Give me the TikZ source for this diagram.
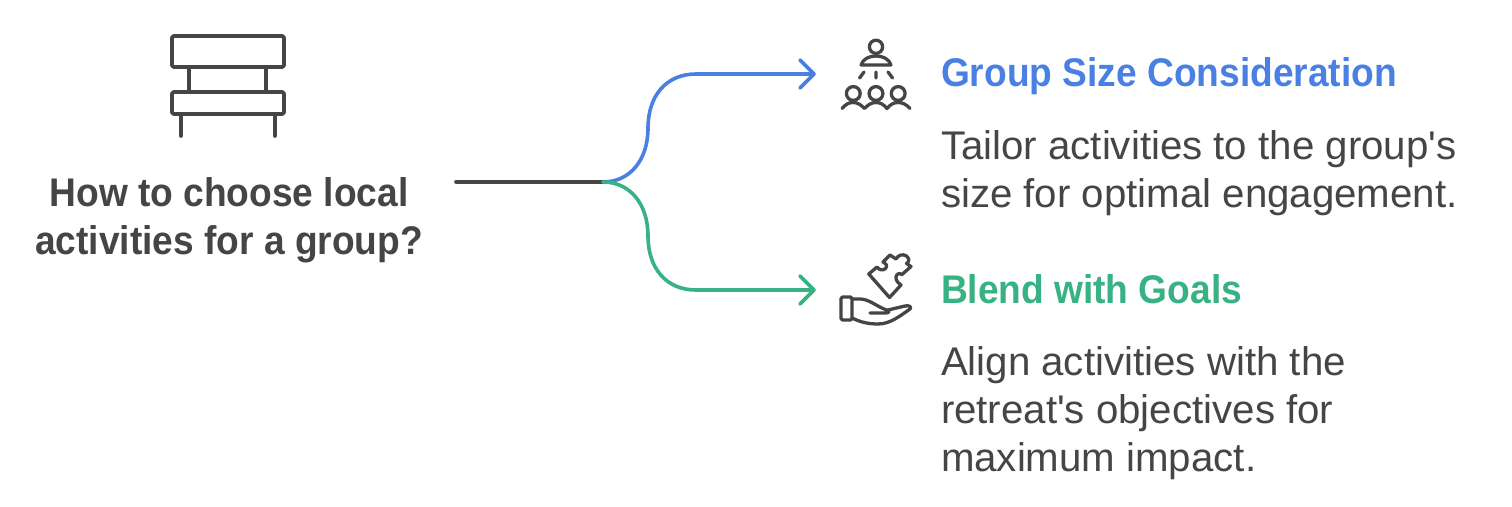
\documentclass[tikz,border=0pt]{standalone}
\usepackage{fontspec}
\setmainfont{Liberation Sans}
\newfontfamily\headfont[FakeStretch=0.928,BoldFont={Liberation Sans Bold}]{Liberation Sans}
\newfontfamily\bodyfont[FakeStretch=1.006]{Liberation Sans}
\definecolor{ink}{HTML}{454545}
\definecolor{blueline}{HTML}{4A80E4}
\definecolor{greenline}{HTML}{38B185}
\tikzset{
  x=1pt,y=-1pt,
  every node/.style={inner sep=0pt,outer sep=0pt,text=ink},
  conn/.style={line width=3.6pt,line cap=round,line join=round},
  icon/.style={draw=ink,line width=3.6pt,line cap=round,line join=round},
  iconthin/.style={draw=ink,line width=3.3pt,line cap=round,line join=round},
  ttl/.style={anchor=base west,font=\headfont\fontsize{40}{48}\selectfont\bfseries},
  body/.style={anchor=north west,align=left,font=\bodyfont\fontsize{40}{48}\selectfont},
  ques/.style={anchor=north,align=center,font=\headfont\fontsize{40}{48}\selectfont\bfseries},
}
\begin{document}
\begin{tikzpicture}
\useasboundingbox (0,0) rectangle (1512,506);
\fill[white] (0,0) rectangle (1512,506);
% bench
\draw[icon,rounded corners=1.5pt] (172,36) rectangle (284,67);
\draw[icon,rounded corners=1.5pt] (172,92) rectangle (284,114);
\draw[icon] (189,67) -- (189,92) (266,67) -- (266,92) (181,114) -- (181,136) (275,114) -- (275,136);
% question
\node[ques] (q) at (229,178) {How to choose local\\activities for a group?};
% connectors
\coordinate (s) at (456,182);
\coordinate (j) at (603,182);
\coordinate (bt) at (814,74);
\coordinate (gt) at (814,290);
\draw[conn,ink] (s) -- (j);
\draw[conn,blueline] (j) .. controls (630,182) and (648,160) .. (648,128) .. controls (648,96) and (666,74) .. (696,74) -- (bt);
\draw[conn,blueline] (800,60) -- (bt) -- (800,88);
\draw[conn,greenline] (j) .. controls (630,182) and (648,204) .. (648,236) .. controls (648,268) and (666,290) .. (696,290) -- (gt);
\draw[conn,greenline] (800,276) -- (gt) -- (800,304);
% group icon
\begin{scope}[iconthin]
\draw (876,46.8) circle (6.6);
\draw (861,65) .. controls (863,59) and (869,56) .. (876,56) .. controls (883,56) and (889,59) .. (891,65) -- cycle;
\draw (859.5,78) -- (864,72) (876,72) -- (876,78) (888,72) -- (892.5,78);
\draw (853.3,93.5) circle (6.9) (876,93.5) circle (6.9) (898.2,93.5) circle (6.9);
\draw (842,108.5) .. controls (846,104) and (849,102.5) .. (853,102.5) .. controls (858,102.5) and (861,105) .. (864.5,108.5)
  .. controls (868,105) and (871,102.5) .. (876,102.5) .. controls (881,102.5) and (884,105) .. (887,108.5)
  .. controls (890,105) and (893,102.5) .. (898,102.5) .. controls (902,102.5) and (906,104) .. (910,108.5);
\end{scope}
% hand & puzzle icon
\begin{scope}[iconthin]
\draw[rounded corners=1.5pt] (841,297) rectangle (852,320);
\draw (852,299) -- (860,299) .. controls (868,299) and (875,305) .. (884,309) -- (887,310)
  .. controls (891,312) and (888,313) .. (885,313) -- (870,313);
\draw (888,310) -- (905,306) .. controls (909,305) and (912,307) .. (910,309) .. controls (900,316) and (890,324) .. (878,324) .. controls (868,324) and (860,322) .. (852,318);
\draw (868.8,274) -- (877,267)
  .. controls (879,270) and (883,271) .. (885.5,268.5) .. controls (888,266) and (886,263.5) .. (883,262)
  -- (890,255) -- (896,259)
  .. controls (898,255) and (903,253.5) .. (906.5,256) .. controls (910,259) and (909,262) .. (906.5,263.5)
  -- (911,266.5) -- (902,274.5)
  .. controls (899,272.5) and (896.5,274) .. (896,277) .. controls (895.5,280) and (898,283) .. (901,285)
  -- (889.5,297.5) -- cycle;
\end{scope}
% texts
\node[ttl,text=blueline] (t1) at (941,86.5) {Group Size Consideration};
\node[body] (b1) at (941,131) {Tailor activities to the group\textquotesingle s\\size for optimal engagement.};
\node[ttl,text=greenline] (t2) at (941,303.5) {Blend with Goals};
\node[body] (b2) at (941,347) {Align activities with the\\retreat\textquotesingle s objectives for\\maximum impact.};
\end{tikzpicture}
\end{document}
